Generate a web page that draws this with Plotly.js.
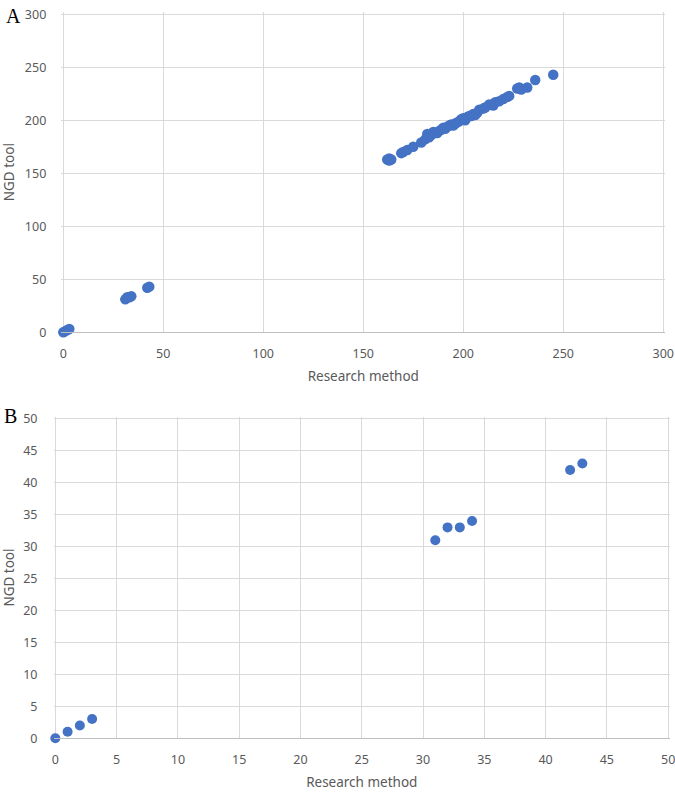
<!DOCTYPE html>
<html>
<head>
<meta charset="utf-8">
<script src="https://cdn.plot.ly/plotly-3.0.1.min.js"></script>
<style>html,body{margin:0;padding:0;background:#fff;}#chart{width:675px;height:793px;}</style>
</head>
<body>
<div id="chart"></div>
<script>
// Panel A: all samples
const researchA = [0,1,2,3,31,32,33,34,42,43,
  162,163,163,164,169,170,172,175,179,181,182,183,184,185,186,187,188,189,190,191,192,193,194,195,196,197,198,199,200,201,202,203,204,205,206,207,208,210,211,213,215,216,218,220,222,223,227,228,229,232,236,245];
const ngdA = [0,1,2,3,31,33,33,34,42,43,
  163,164,162,163,169,170,172,175,179,182,187,184,186,189,188,188,190,191,193,192,194,195,196,195,197,198,199,201,202,200,203,204,204,206,205,207,210,211,212,215,214,217,218,220,222,223,230,231,229,231,238,243];
// Panel B: low range
const researchB = [0,1,2,3,31,32,33,34,42,43];
const ngdB = [0,1,2,3,31,33,33,34,42,43];

const ticksA = [0,50,100,150,200,250,300];
const ticksB = [0,5,10,15,20,25,30,35,40,45,50];

const blue = '#4472C4';
const tickFont = {family:'Noto Sans, Open Sans, sans-serif', size:12.5, color:'#595959'};
const titleFont = {family:'Noto Sans, Open Sans, sans-serif', size:13.5, color:'#595959'};

function axis(domain, ticks, range, extra){
  return Object.assign({
    domain: domain, range: range, tickvals: ticks, ticktext: ticks.map(String),
    showgrid: true, gridcolor: '#d9d9d9', gridwidth: 1,
    zeroline: false, showline: false, ticks: '',
    tickfont: tickFont, automargin: false, fixedrange: true,
    ticklabeloverflow: 'allow'
  }, extra||{});
}

const traces = [
  {x: researchA, y: ngdA, type:'scatter', mode:'markers', xaxis:'x', yaxis:'y',
   marker:{color:blue, size:10.5}, showlegend:false, cliponaxis:false},
  {x: researchB, y: ngdB, type:'scatter', mode:'markers', xaxis:'x2', yaxis:'y2',
   marker:{color:blue, size:10}, showlegend:false, cliponaxis:false}
];

const layout = {
  width:675, height:793, margin:{l:0,r:0,t:0,b:0},
  paper_bgcolor:'#fff', plot_bgcolor:'#fff', showlegend:false,
  xaxis: axis([61.3/675, 665.2/675], ticksA, [-1,301], {
    anchor:'y', showline:true, linecolor:'#bfbfbf', linewidth:1, ticklabelstandoff: 10,
    title:{text:'Research method', font:titleFont, standoff:10}}),
  yaxis: axis([1-332.2/793, 1-12.2/793], ticksA, [0,302], {
    anchor:'x', ticklabelstandoff: 14,
    title:{text:'NGD tool', font:titleFont, standoff:9}}),
  xaxis2: axis([53.5/675, 670.0/675], ticksB, [-0.15,50.15], {
    anchor:'y2', showline:true, linecolor:'#bfbfbf', linewidth:1, ticklabelstandoff: 10,
    title:{text:'Research method', font:titleFont, standoff:10}}),
  yaxis2: axis([1-738.2/793, 1-416.9/793], ticksB, [0,50.3], {
    anchor:'x2', ticklabelstandoff: 15,
    title:{text:'NGD tool', font:titleFont, standoff:9}}),
  annotations: [
    {text:'A', xref:'paper', yref:'paper', x:4/675, y:1-3/793, xanchor:'left', yanchor:'top',
     showarrow:false, font:{family:'Liberation Serif, serif', size:20, color:'#000'}},
    {text:'B', xref:'paper', yref:'paper', x:2/675, y:1-403/793, xanchor:'left', yanchor:'top',
     showarrow:false, font:{family:'Liberation Serif, serif', size:20, color:'#000'}}
  ]
};

Plotly.newPlot('chart', traces, layout, {staticPlot:true, displayModeBar:false});
</script>
</body>
</html>
